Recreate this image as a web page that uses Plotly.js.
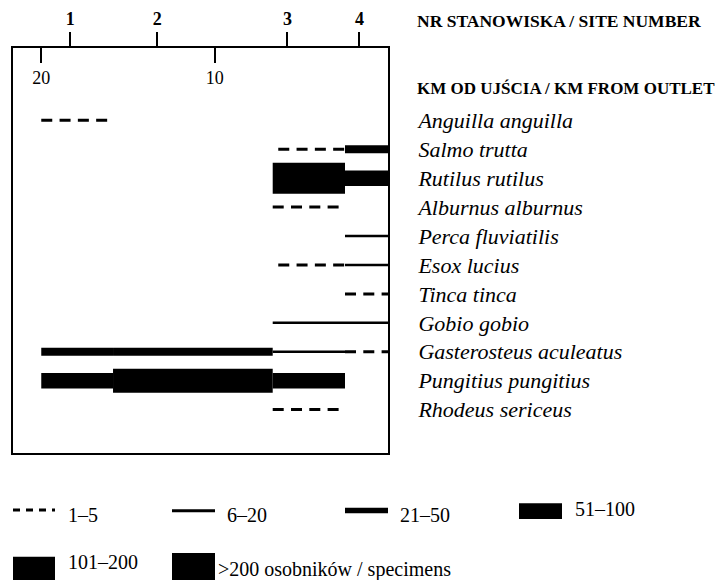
<!DOCTYPE html>
<html>
<head>
<meta charset="utf-8">
<script src="https://cdn.plot.ly/plotly-3.0.1.min.js"></script>
<style>html,body{margin:0;padding:0;background:#fff;}#chart{width:720px;height:580px;}</style>
</head>
<body>
<div id="chart"></div>
<script>
// ---------- DATA ----------
const species = ["Anguilla anguilla","Salmo trutta","Rutilus rutilus","Alburnus alburnus","Perca fluviatilis","Esox lucius","Tinca tinca","Gobio gobio","Gasterosteus aculeatus","Pungitius pungitius","Rhodeus sericeus"];
const siteLabels = ["1","2","3","4"];
const siteKm = [18.33, 13.31, 5.80, 1.65];
const kmTicks = [20, 10];
const kmTickLabels = ["20", "10"];
const classLabels = ["1–5","6–20","21–50","51–100","101–200",">200 osobników / specimens"];
// segments: species index, km from, km to, abundance class index
const segSpecies = [0, 1,1, 2,2, 3, 4, 5,5, 6, 7,7, 8,8,8,8, 9,9,9, 10];
const segFrom    = [20, 6.33,2.48, 6.65,2.48, 6.65, 2.48, 6.33,2.48, 2.48, 6.65,2.48, 20,15.86,6.65,2.48, 20,15.86,6.65, 6.65];
const segTo      = [16.13, 2.48,0, 2.48,0, 2.81, 0, 2.48,0, 0, 2.48,0, 15.86,6.65,2.48,0, 15.86,6.65,2.48, 2.81];
const segClass   = [0, 0,2, 5,3, 0, 1, 0,1, 0, 1,1, 2,2,1,0, 3,4,3, 0];

// ---------- STYLE ----------
const FONT = "Liberation Serif, Times New Roman, serif";
const classStyle = [
  {width:3, dash:"11px,7.3px"},
  {width:2.5, dash:"solid"},
  {width:8, dash:"solid"},
  {width:15.5, dash:"solid"},
  {width:24, dash:"solid"},
  {width:31, dash:"solid"}
];
const W = 720, H = 580, M = {l:13, r:332, t:48, b:127};
const pw = W - M.l - M.r, ph = H - M.t - M.b;
const pxX = px => (px - M.l) / pw;
const pxY = py => (H - M.b - py) / ph;

const traces = segSpecies.map((s, i) => ({
  type: "scatter", mode: "lines",
  x: [segFrom[i], segTo[i]], y: [s, s],
  line: {color: "#000", width: classStyle[segClass[i]].width, dash: classStyle[segClass[i]].dash},
  hoverinfo: "skip", showlegend: false
}));
// dummy trace for top site axis
traces.push({type:"scatter", mode:"markers", x:[siteKm[0]], y:[0], xaxis:"x2", marker:{opacity:0}, hoverinfo:"skip", showlegend:false});

// ---------- LEGEND (drawn as shapes + annotations) ----------
const legendItems = [
  {x0:13, x1:55, yc:510, h:0, tx:66, ty:515},
  {x0:172, x1:215, yc:510.7, h:0, tx:225, ty:515},
  {x0:345, x1:388, yc:510.5, h:5.7, tx:398, ty:515},
  {x0:519, x1:562, yc:511.2, h:15.7, tx:573, ty:509},
  {x0:13, x1:55, yc:569.2, h:25, tx:66, ty:561.5},
  {x0:172, x1:215, yc:569, h:32, tx:216, ty:569}
];
const shapes = [];
const annotations = [];
legendItems.forEach((it, k) => {
  if (it.h === 0) {
    shapes.push({type:"line", xref:"paper", yref:"paper", x0:pxX(it.x0), x1:pxX(it.x1), y0:pxY(it.yc), y1:pxY(it.yc),
      line:{color:"#000", width:3, dash: k===0 ? "7px,6px" : "solid"}});
  } else {
    shapes.push({type:"rect", xref:"paper", yref:"paper", x0:pxX(it.x0), x1:pxX(it.x1), y0:pxY(it.yc - it.h/2), y1:pxY(it.yc + it.h/2),
      fillcolor:"#000", line:{width:0}});
  }
  annotations.push({xref:"paper", yref:"paper", x:pxX(it.tx), y:pxY(it.ty), xanchor:"left", yanchor:"middle",
    text: classLabels[k], showarrow:false, font:{family:FONT, size:20, color:"#000"}});
});
annotations.push({xref:"paper", yref:"paper", x:pxX(415), y:pxY(21), xanchor:"left", yanchor:"middle",
  text:"NR STANOWISKA / SITE NUMBER", showarrow:false, font:{family:FONT, size:17.5, weight:"bold", color:"#000"}});
annotations.push({xref:"paper", yref:"paper", x:pxX(415), y:pxY(88), xanchor:"left", yanchor:"middle",
  text:"KM OD UJŚCIA / KM FROM OUTLET", showarrow:false, font:{family:FONT, size:17, weight:"bold", color:"#000"}});

const layout = {
  width: W, height: H,
  margin: M,
  paper_bgcolor: "#fff", plot_bgcolor: "#fff",
  showlegend: false,
  xaxis: {
    range: [21.63, 0], side: "top", showgrid: false, zeroline: false,
    showline: true, mirror: true, linecolor: "#000", linewidth: 2,
    ticks: "inside", ticklen: 15, tickwidth: 2, tickcolor: "#000",
    tickvals: kmTicks, ticktext: kmTickLabels, ticklabelposition: "inside",
    ticklabelstandoff: 9,
    tickfont: {family: FONT, size: 18, color: "#000"}
  },
  xaxis2: {
    range: [21.63, 0], side: "top", overlaying: "x", showgrid: false, zeroline: false,
    ticks: "outside", ticklen: 15, tickwidth: 2, tickcolor: "#000",
    tickvals: siteKm, ticktext: siteLabels,
    tickfont: {family: FONT, size: 18, weight: "bold", color: "#000"}
  },
  yaxis: {
    range: [11.5, -2.5], side: "right", showgrid: false, zeroline: false,
    showline: true, mirror: true, linecolor: "#000", linewidth: 2,
    ticks: "", tickvals: species.map((s, i) => i), ticktext: species,
    ticklabelstandoff: 24,
    tickfont: {family: FONT, size: 22, style: "italic", color: "#000"}
  },
  shapes: shapes,
  annotations: annotations
};

Plotly.newPlot("chart", traces, layout, {staticPlot: true, displayModeBar: false});
</script>
</body>
</html>
